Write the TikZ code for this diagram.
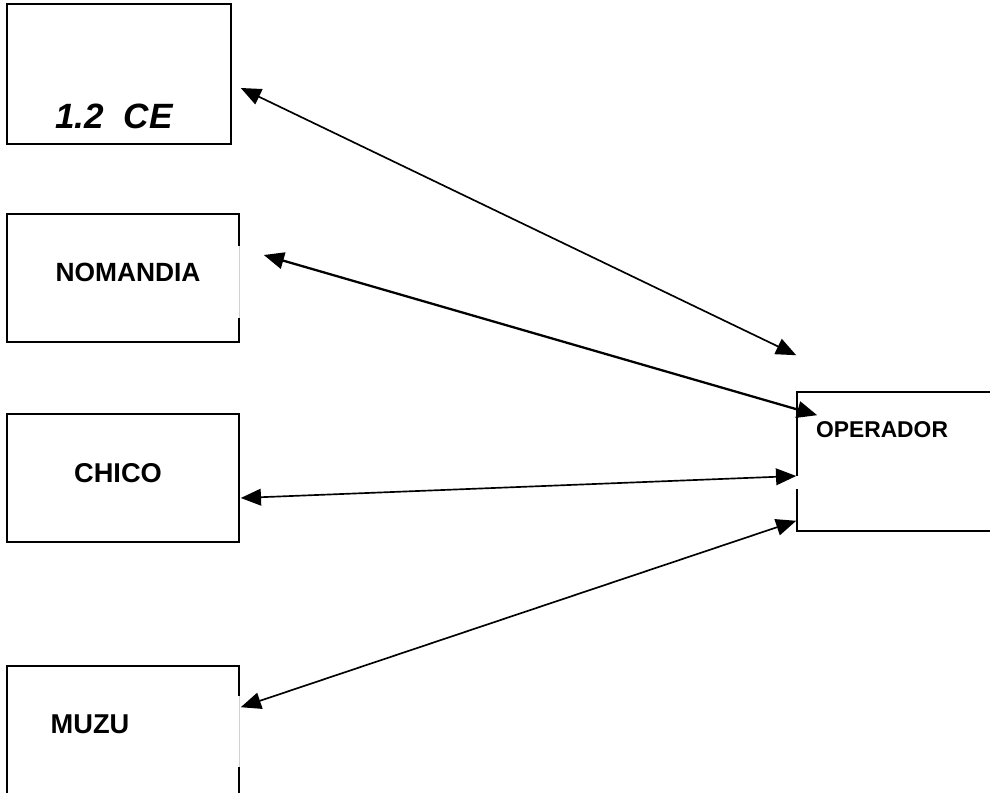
\documentclass[tikz,border=0pt]{standalone}
\usepackage{fontspec}
\setmainfont{Liberation Sans}
\usetikzlibrary{arrows.meta, calc}

\tikzset{
  blk/.style={draw, line width=0.9pt, inner sep=0pt},
  tag/.style={inner sep=0pt, font=\bfseries\fontsize{#1}{#1}\selectfont},
  link/.style={{Triangle[length=11.5pt,width=9.5pt]}-{Triangle[length=11.5pt,width=9.5pt]}, line width=0.95pt},
  gapwhite/.style={draw=white, line width=2pt},
  gapgrey/.style={draw=gray!35, line width=0.4pt}
}

\begin{document}
\begin{tikzpicture}[x=0.02cm, y=-0.02cm]
  \useasboundingbox (0,0) rectangle (990,793);
  \clip (0,0) rectangle (990,793);
  % boxes
  \node[blk, minimum width=4.48cm, minimum height=2.8cm] (ce) at (119,74) {};
  \node[blk, minimum width=4.64cm, minimum height=2.56cm] (nomandia) at (123,278) {};
  \node[blk, minimum width=4.64cm, minimum height=2.56cm] (chico) at (123,478) {};
  \node[blk, minimum width=4.64cm, minimum height=2.8cm] (muzu) at (123,736) {};
  \node[blk, minimum width=4.16cm, minimum height=2.78cm] (op) at (901,461.5) {};
  % broken edges
  \draw[gapwhite] ($(nomandia.north east)+(0,33)$) -- ($(nomandia.south east)+(0,-25)$);
  \draw[gapgrey] ($(nomandia.north east)+(0,33)$) -- ($(nomandia.south east)+(0,-25)$);
  \draw[gapwhite] ($(muzu.north east)+(0,31)$) -- ($(muzu.north east)+(0,102)$);
  \draw[gapgrey] ($(muzu.north east)+(0,31)$) -- ($(muzu.north east)+(0,102)$);
  \draw[gapwhite] ($(op.north west)+(0,85)$) -- ($(op.north west)+(0,98)$);
  % texts
  \node[inner sep=0pt, font=\bfseries\itshape\fontsize{20pt}{20pt}\selectfont] (celbl) at (114,116) {1.2\ \ CE};
  \node[tag=15pt] (nomandialbl) at (128,272) {NOMANDIA};
  \node[tag=15.5pt] (chicolbl) at (118,473) {CHICO};
  \node[tag=15.5pt] (muzulbl) at (90,724) {MUZU};
  \node[tag=13pt] (oplbl) at (882,430) {OPERADOR};
  % links
  \draw[link] ([shift={(9,14)}]ce.east) -- ([shift={(0,-36)}]op.north west);
  \draw[link, line width=1.3pt] ([shift={(24,-23)}]nomandia.east) -- ([shift={(21,24)}]op.north west);
  \draw[link] ([shift={(1,20)}]chico.east) -- ([shift={(0,14.5)}]op.west);
  \draw[link] ([shift={(1,42)}]muzu.north east) -- ([shift={(0,-11)}]op.south west);
\end{tikzpicture}
\end{document}
